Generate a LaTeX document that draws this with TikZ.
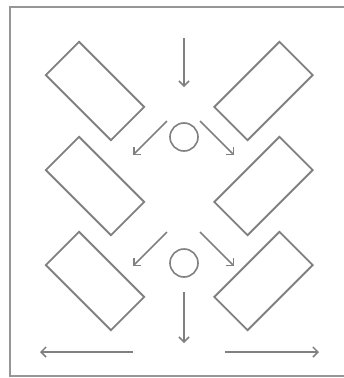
\documentclass[tikz,border=0pt]{standalone}
\usepackage{xcolor}
\definecolor{ltgray}{RGB}{128,128,128}
\definecolor{frgray}{RGB}{150,150,150}
\usetikzlibrary{arrows.meta,positioning}
\tikzset{
  plate/.style={draw=ltgray, line width=1.8pt, minimum width=92pt, minimum height=47pt, inner sep=0pt},
  hole/.style={circle, draw=ltgray, line width=1.6pt, minimum size=28pt, inner sep=0pt},
  flow/.style={-{Straight Barb[length=5pt,width=10pt]}, ltgray, line width=1.5pt}
}
\begin{document}
\begin{tikzpicture}[x=1pt, y=-1pt]
  \useasboundingbox (0,0) rectangle (344,378);
  % frame
  \draw[frgray, line width=2.8pt] (344,7) -- (10,7) -- (10,376) -- (344,376);
  % plates
  \node[plate, rotate=-45] (pl1) at (95,91) {};
  \node[plate, rotate=-45] (pl2) at (95,186) {};
  \node[plate, rotate=-45] (pl3) at (95,281) {};
  \node[plate, rotate=45] (pr1) at (263.5,91) {};
  \node[plate, rotate=45] (pr2) at (263.5,186) {};
  \node[plate, rotate=45] (pr3) at (263.5,281) {};
  % holes
  \node[hole] (h1) at (184,137) {};
  \node[hole] (h2) at (184,263) {};
  % arrow ends
  \coordinate (in) at (184,38);
  \coordinate (ina) at (184,87);
  \coordinate (a1) at (167,121);  \coordinate (b1) at (133,155);
  \coordinate (a2) at (200,121);  \coordinate (b2) at (234,155);
  \coordinate (a3) at (167,232);  \coordinate (b3) at (133,266);
  \coordinate (a4) at (200,232);  \coordinate (b4) at (234,266);
  \coordinate (out) at (184,292); \coordinate (outa) at (184,343);
  \coordinate (l1) at (133,352);  \coordinate (l2) at (40,352);
  \coordinate (r1) at (225,352);  \coordinate (r2) at (319,352);
  % arrows
  \draw[flow] (in) -- (ina);
  \draw[flow] (a1) -- (b1);
  \draw[flow] (a2) -- (b2);
  \draw[flow] (a3) -- (b3);
  \draw[flow] (a4) -- (b4);
  \draw[flow] (out) -- (outa);
  \draw[flow] (l1) -- (l2);
  \draw[flow] (r1) -- (r2);
\end{tikzpicture}
\end{document}
